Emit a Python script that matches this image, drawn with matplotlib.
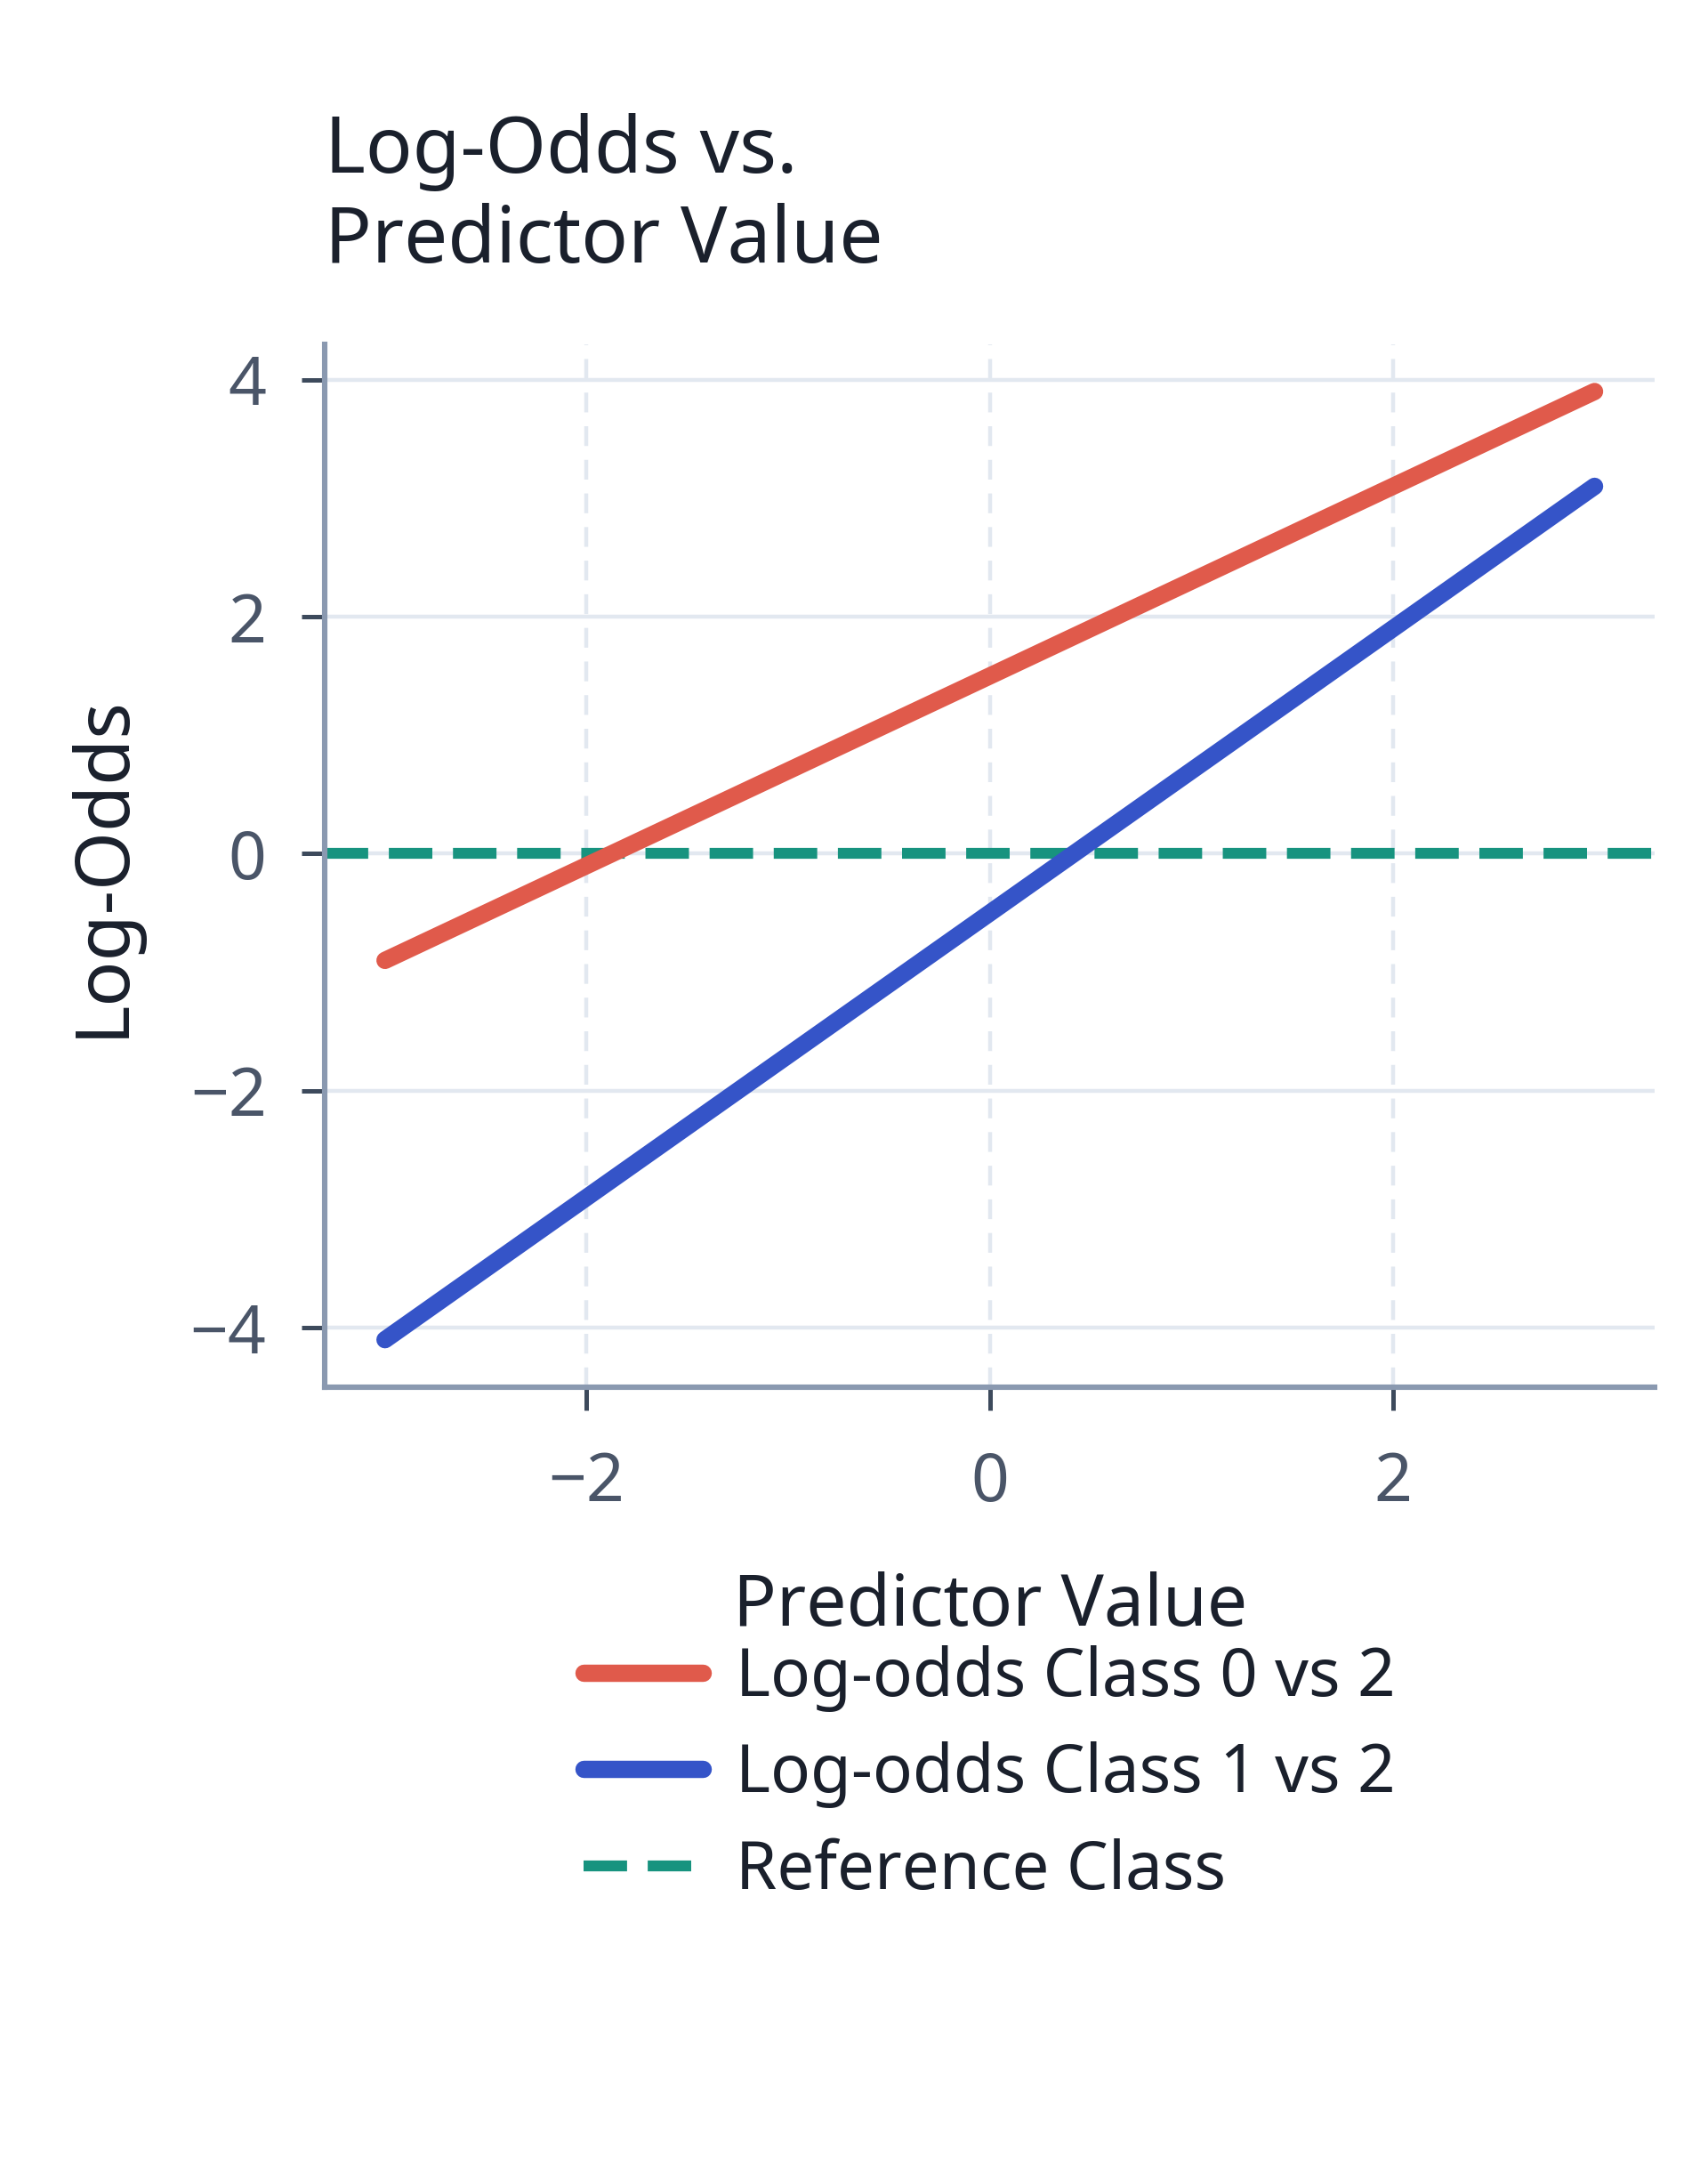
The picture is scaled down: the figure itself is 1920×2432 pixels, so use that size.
import numpy as np
import matplotlib
matplotlib.use("Agg")
import matplotlib.pyplot as plt

# values
predictor = [-3, -2, -1, 0, 1, 2, 3]
logodds_0_vs_2 = [-0.9, -0.1, 0.7, 1.5, 2.3, 3.1, 3.9]
logodds_1_vs_2 = [-4.1, -2.9, -1.7, -0.5, 0.7, 1.9, 3.1]
reference_level = 0

series_labels = ["Log-odds Class 0 vs 2", "Log-odds Class 1 vs 2", "Reference Class"]

plt.rcParams['font.family'] = ['Noto Sans', 'DejaVu Sans']

DARK = '#1a202c'
TICK = '#4a5568'
SPINE = '#8a99b0'
GRID = '#e2e8f0'

fig = plt.figure(figsize=(9.6, 12.16), dpi=200)
ax = fig.add_axes([0.190, 0.359, 0.779, 0.482])

ax.plot(predictor, logodds_0_vs_2, color='#e05a4b', lw=7, solid_capstyle='round',
        label=series_labels[0], zorder=3)
ax.plot(predictor, logodds_1_vs_2, color='#3554c8', lw=7, solid_capstyle='round',
        label=series_labels[1], zorder=3)
ax.axhline(reference_level, color='#17937f', lw=4.4, linestyle=(0, (4.0, 1.9)),
           label=series_labels[2], zorder=2)

ax.set_yticks([-4, -2, 0, 2, 4])
ax.set_xticks([-2, 0, 2])
ax.set_xticklabels(['\u22122', '0', '2'])
ax.set_yticklabels(['\u22124', '\u22122', '0', '2', '4'])

ax.grid(axis='y', color=GRID, lw=1.6, linestyle='-', zorder=0)
ax.grid(axis='x', color=GRID, lw=1.6, linestyle=(0, (5, 3.5)), zorder=0)
ax.set_axisbelow(True)

for side in ['top', 'right']:
    ax.spines[side].set_visible(False)
for side in ['left', 'bottom']:
    ax.spines[side].set_color(SPINE)
    ax.spines[side].set_linewidth(2.2)

ax.tick_params(axis='both', colors='#3d4a5c', length=9.5, width=1.8,
               labelsize=27, labelcolor=TICK)
ax.tick_params(axis='x', pad=16)
ax.tick_params(axis='y', pad=14)

ax.set_xlabel('Predictor Value', fontsize=29, color=DARK, labelpad=22)
ax.set_ylabel('Log-Odds', fontsize=30.5, color=DARK, labelpad=20)
ax.set_title('Log-Odds vs.\nPredictor Value', loc='left', fontsize=31.5,
             color=DARK, pad=33, linespacing=1.2)

leg = ax.legend(loc='upper center', bbox_to_anchor=(0.5, -0.19), frameon=False,
                fontsize=26.8, handlelength=1.8, handletextpad=0.5, labelspacing=0.45,
                labelcolor=DARK)

fig.savefig('out.png', dpi=200, facecolor='white')
